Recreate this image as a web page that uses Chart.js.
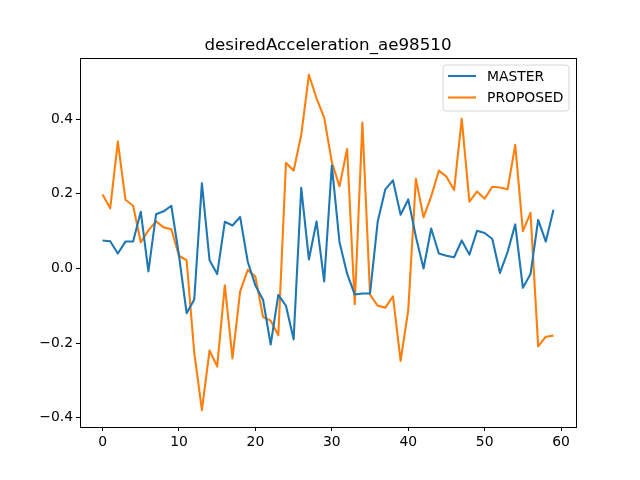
<!DOCTYPE html>
<html>
<head>
<meta charset="utf-8">
<script src="https://cdn.jsdelivr.net/npm/chart.js@4"></script>
<style>
  body { margin: 0; background: #fff; }
  #wrap { width: 640px; height: 480px; }
</style>
</head>
<body>
<div id="wrap"><canvas id="chart" width="640" height="480"></canvas></div>
<script>
const titleText = 'desiredAcceleration_ae98510';
const steps = Array.from({ length: 60 }, (_, i) => i);
const xTicks = [0, 10, 20, 30, 40, 50, 60];
const yTicks = [-0.4, -0.2, 0.0, 0.2, 0.4];

const master = [
  0.075, 0.073, 0.040, 0.072, 0.072, 0.152, -0.008, 0.145, 0.153, 0.168,
  0.035, -0.120, -0.083, 0.228, 0.022, -0.015, 0.125, 0.115, 0.138, 0.018,
  -0.046, -0.084, -0.204, -0.071, -0.100, -0.190, 0.216, 0.024, 0.126, -0.035,
  0.276, 0.071, -0.014, -0.070, -0.067, -0.067, 0.125, 0.212, 0.236, 0.144,
  0.185, 0.085, 0.000, 0.107, 0.040, 0.034, 0.030, 0.075, 0.037, 0.101,
  0.095, 0.079, -0.012, 0.044, 0.118, -0.052, -0.015, 0.130, 0.072, 0.157
];
const proposed = [
  0.198, 0.161, 0.340, 0.184, 0.168, 0.070, 0.102, 0.126, 0.110, 0.105,
  0.034, 0.022, -0.226, -0.380, -0.220, -0.263, -0.045, -0.241, -0.062, -0.004,
  -0.022, -0.130, -0.140, -0.179, 0.283, 0.262, 0.358, 0.519, 0.456, 0.404,
  0.285, 0.220, 0.320, -0.096, 0.391, -0.070, -0.100, -0.105, -0.075, -0.248,
  -0.112, 0.240, 0.137, 0.193, 0.262, 0.246, 0.210, 0.401, 0.179, 0.206,
  0.187, 0.219, 0.217, 0.212, 0.331, 0.100, 0.149, -0.209, -0.183, -0.180
];

const font = 'DejaVu Sans';

// 제목, 테두리, 범례는 matplotlib 모양으로 직접 그림
const mplDecor = {
  id: 'mplDecor',
  afterDraw(chart) {
    const { ctx, chartArea } = chart;
    ctx.save();

    // 축 테두리
    ctx.strokeStyle = '#000';
    ctx.lineWidth = 1;
    ctx.strokeRect(Math.round(chartArea.left) + 0.5, Math.round(chartArea.top) + 0.5,
      Math.round(chartArea.right - chartArea.left), Math.round(chartArea.bottom - chartArea.top));

    ctx.fillStyle = '#000';
    ctx.font = `16.7px "${font}"`;
    ctx.textAlign = 'center';
    ctx.textBaseline = 'alphabetic';
    ctx.fillText(titleText, (chartArea.left + chartArea.right) / 2, 50);

    // 범례
    const bx = 443, by = 65, bw = 126, bh = 46, r = 3;
    ctx.beginPath();
    ctx.moveTo(bx + r, by);
    ctx.arcTo(bx + bw, by, bx + bw, by + bh, r);
    ctx.arcTo(bx + bw, by + bh, bx, by + bh, r);
    ctx.arcTo(bx, by + bh, bx, by, r);
    ctx.arcTo(bx, by, bx + bw, by, r);
    ctx.closePath();
    ctx.fillStyle = 'rgba(255,255,255,0.8)';
    ctx.fill();
    ctx.strokeStyle = '#d6d6d6';
    ctx.lineWidth = 1;
    ctx.stroke();

    ctx.font = `13.9px "${font}"`;
    ctx.textAlign = 'left';
    ctx.textBaseline = 'middle';
    chart.data.datasets.forEach((ds, i) => {
      const y = 76 + i * 21.5;
      ctx.strokeStyle = ds.borderColor;
      ctx.lineWidth = 2.1;
      ctx.beginPath();
      ctx.moveTo(448, y);
      ctx.lineTo(476, y);
      ctx.stroke();
      ctx.fillStyle = '#000';
      ctx.fillText(ds.label, 487, y + 1);
    });
    ctx.restore();
  }
};

new Chart(document.getElementById('chart'), {
  type: 'line',
  data: {
    labels: steps,
    datasets: [
      {
        label: 'MASTER',
        data: master,
        borderColor: '#1f77b4',
        borderWidth: 2.1,
        borderJoinStyle: 'round',
        borderCapStyle: 'butt',
        pointRadius: 0,
        tension: 0,
        fill: false
      },
      {
        label: 'PROPOSED',
        data: proposed,
        borderColor: '#ff7f0e',
        borderWidth: 2.1,
        borderJoinStyle: 'round',
        borderCapStyle: 'butt',
        pointRadius: 0,
        tension: 0,
        fill: false
      }
    ]
  },
  options: {
    responsive: false,
    animation: false,
    devicePixelRatio: 1,
    layout: { padding: { top: 58, right: 64, left: 0, bottom: 0 } },
    plugins: {
      legend: { display: false },
      title: { display: false },
      tooltip: { enabled: false }
    },
    scales: {
      x: {
        type: 'linear',
        min: -2.95,
        max: 61.95,
        afterBuildTicks: s => { s.ticks = xTicks.map(v => ({ value: v })); },
        afterFit: s => { s.height = 53; },
        border: { display: false },
        grid: { display: true, drawOnChartArea: false, drawTicks: true, tickLength: 4, tickColor: '#000' },
        ticks: { color: '#000', font: { family: font, size: 13.9 }, padding: 3, maxRotation: 0, autoSkip: false }
      },
      y: {
        type: 'linear',
        min: -0.425,
        max: 0.564,
        afterBuildTicks: s => { s.ticks = yTicks.map(v => ({ value: v })); },
        afterFit: s => { s.width = 80; },
        border: { display: false },
        grid: { display: true, drawOnChartArea: false, drawTicks: true, tickLength: 4, tickColor: '#000' },
        ticks: {
          color: '#000',
          font: { family: font, size: 13.9 },
          padding: 3,
          autoSkip: false,
          // matplotlib 처럼 유니코드 마이너스 기호 사용
          callback: v => v.toFixed(1).replace('-', '\u2212')
        }
      }
    }
  },
  plugins: [mplDecor]
});
</script>
</body>
</html>
